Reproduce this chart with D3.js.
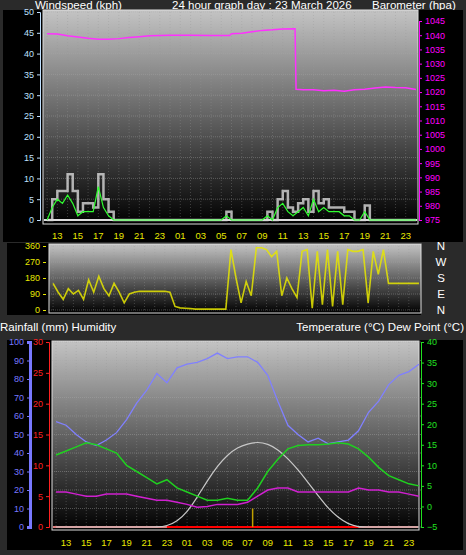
<!DOCTYPE html>
<html><head><meta charset="utf-8">
<script src="https://cdn.jsdelivr.net/npm/d3@7"></script>
<style>body{margin:0;background:#2a2a2a;} text{font-family:"Liberation Sans",Arial,sans-serif;}</style>
</head><body>
<script>
// half-hour times 12.0 .. 48.0 (hours since midnight of day before)
var halfHours = d3.range(12, 48.01, 0.5);
var gust = [0,5,7,7,11,7,2,4,4,3,11,5,2,0,0,0,0,0,0,0,0,0,0,0,0,0,0,0,0,0,0,0,0,0,0,2,0,0,0,0,0,0,0,2,0,5,7,3,2,4,5,2,7,4,5,3,3,3,2,2,0,0,3.5,0,0,0,0,0,0,0,0,0,0];
var wind = [0,3,5,4,6,4,1,2,2,2,8,3,1,0,0,0,0,0,0,0,0,0,0,0,0,0,0,0,0,0,0,0,0,0,0,1,0,0,0,0,0,0,0,1,0,3,4,2,1,2,3,1,5,2,3,2,2,2,1,1,0,0,2,0,0,0,0,0,0,0,0,0,0];
var windDir = [150,100,60,120,90,110,60,170,100,190,120,80,150,100,40,90,100,105,105,105,105,105,105,100,20,12,10,8,5,5,5,5,5,5,5,340,180,40,160,80,350,350,340,300,330,80,180,120,70,330,340,10,330,30,340,20,330,30,340,330,330,340,40,330,200,340,150,150,150,150,150,150,150];
var baroTime = [12,13,14,15,16,17,18,19,20,21,22,24,26,28,29.8,30,31,32,33,34,35,36.2,36.3,37,38,39,40,41,42,43,44,45,46,47,48];
var baro = [1040.5,1040.4,1039.8,1039.4,1038.9,1038.6,1038.6,1038.8,1039.2,1039.5,1039.8,1040,1040,1039.9,1039.9,1040.5,1040.7,1041.2,1041.7,1041.9,1042.2,1042.3,1021,1020.8,1020.8,1020.5,1020.6,1020.3,1020.8,1021,1021.4,1021.8,1021.6,1021.5,1020.9];
var hours = d3.range(12, 48.01, 1);
var humidity = [57,55,50,46,44,47,51,58,67,74,83,78,86,88,89,91,94,91,92,92,89,82,68,55,50,46,48,45,46,47,52,62,68,77,82,84,88];
var temperature = [12.5,13.5,14.5,15.5,15,14,13,10,8.5,7,5.5,6.5,4.5,3.5,2.5,1.5,1.5,2,1.5,1.5,4.5,8.5,11.5,14,14.8,15,15,15.2,15.5,15.2,14,12,9.5,7.5,6.5,5.5,5];
var dewPoint = [3.5,3.5,3,2.5,2.5,3,3,3,2.5,2,1.5,1.5,1,0.5,-0.2,0,0.5,0.5,0.5,1,2.5,4,4.5,4.5,3.5,3.5,3.5,3.5,3.5,3.5,4.5,4,4,3.5,3.5,3,2.5];
var solarPct = [0,0,0,0,0,0,0,0,0,0,0,0.5,3,8,16,25,33,39,43,45,46,45,42,37,31,24,17,10,5,1.5,0,0,0,0,0,0,0];
var rainRateTime = 31.5, rainRate = 3;
var hourLabels = ["13","15","17","19","21","23","01","03","05","07","09","11","13","15","17","19","21","23"];
var labelHours = d3.range(13, 48, 2);

var W = 466, H = 555;
var svg = d3.select('body').append('svg').attr('width', W).attr('height', H);
var defs = svg.append('defs');
var gr = defs.append('linearGradient').attr('id', 'bg').attr('x1', 0).attr('y1', 0).attr('x2', 0).attr('y2', 1);
gr.append('stop').attr('offset', '0%').attr('stop-color', '#c4c4c4');
gr.append('stop').attr('offset', '100%').attr('stop-color', '#000');

function panel(x0, y0, x1, y1, bx, by, bw, bh) {
  svg.append('rect').attr('x', bx).attr('y', by).attr('width', bw).attr('height', bh).attr('fill', '#000');
  svg.append('rect').attr('x', x0).attr('y', y0).attr('width', x1 - x0).attr('height', y1 - y0).attr('fill', 'url(#bg)')
    .attr('stroke', '#ddd').attr('stroke-width', 1);
}
function grid(x, y, ticks, yt) {
  var g = svg.append('g');
  g.selectAll('.v').data(labelHours.concat(d3.range(12, 48, 2))).enter().append('line')
    .attr('x1', d => x(d)).attr('x2', d => x(d)).attr('y1', y.range()[1]).attr('y2', y.range()[0])
    .attr('stroke', '#999').attr('stroke-opacity', 0.35).attr('stroke-dasharray', '1,2');
  g.selectAll('.h').data(yt).enter().append('line')
    .attr('x1', x.range()[0]).attr('x2', x.range()[1]).attr('y1', d => y(d)).attr('y2', d => y(d))
    .attr('stroke', '#aaa').attr('stroke-opacity', 0.4).attr('stroke-dasharray', '1,1');
}
function xLabels(x, yy) {
  svg.append('g').selectAll('text').data(labelHours).enter().append('text')
    .attr('x', d => x(d)).attr('y', yy).attr('text-anchor', 'middle').attr('font-size', 9.5).attr('fill', '#e8e800')
    .text((d, i) => hourLabels[i]);
}
function yAxis(scale, xpos, orient, vals, color, fmt) {
  var ax = (orient === 'left' ? d3.axisLeft(scale) : d3.axisRight(scale)).tickValues(vals).tickSize(3).tickFormat(fmt || d3.format('d'));
  var g = svg.append('g').attr('transform', 'translate(' + xpos + ',0)').call(ax);
  g.select('.domain').attr('stroke', color);
  g.selectAll('line').attr('stroke', color);
  g.selectAll('text').attr('fill', color).attr('font-size', 9).attr('font-family', '"Liberation Sans",Arial,sans-serif');
  return g;
}

// titles
svg.append('text').attr('x', 35).attr('y', 9).attr('fill', '#fff').attr('font-size', 11.5).text('Windspeed (kph)');
svg.append('text').attr('x', 172).attr('y', 9).attr('fill', '#fff').attr('font-size', 11.5).text('24 hour graph day : 23 March 2026');
svg.append('text').attr('x', 372).attr('y', 9).attr('fill', '#fff').attr('font-size', 11.5).text('Barometer (hpa)');

// ---- panel 1 wind/baro
var x1 = d3.scaleLinear().domain([11.6, 48.2]).range([43, 418]);
var yW = d3.scaleLinear().domain([0, 50]).range([220, 12]);
var yB = d3.scaleLinear().domain([975, 1045]).range([220, 21]);
panel(43, 10, 418, 224, 3, 10, 460, 232);
grid(x1, yW, null, d3.range(0, 51, 5));
yAxis(yW, 40, 'left', d3.range(0, 51, 5), '#bfe0ff');
yAxis(yB, 419, 'right', d3.range(975, 1046, 5), '#ff00ff');
svg.append('line').attr('x1', 44).attr('x2', 417).attr('y1', yW(0)).attr('y2', yW(0)).attr('stroke', '#ddd').attr('stroke-width', 2);
svg.append('path').datum(gust).attr('fill', 'none').attr('stroke', '#d8d8d8').attr('stroke-width', 2.5).attr('stroke-opacity', 0.8)
  .attr('d', d3.line().x((d, i) => x1(halfHours[i])).y(d => yW(d)).curve(d3.curveStepAfter));
svg.append('path').datum(wind).attr('fill', 'none').attr('stroke', '#30ff30').attr('stroke-width', 1.2)
  .attr('d', d3.line().x((d, i) => x1(halfHours[i])).y(d => yW(d)));
svg.append('path').datum(baro).attr('fill', 'none').attr('stroke', '#ff30ff').attr('stroke-width', 1.5)
  .attr('d', d3.line().x((d, i) => x1(baroTime[i])).y(d => yB(d)));
xLabels(x1, 239);

// ---- panel 2 wind direction
var x2 = d3.scaleLinear().domain([11.6, 48.2]).range([49, 421]);
var yD = d3.scaleLinear().domain([0, 360]).range([310, 246]);
panel(49, 244, 421, 313, 7, 243, 414, 72);
grid(x2, yD, null, d3.range(0, 361, 90));
yAxis(yD, 46, 'left', d3.range(0, 361, 90), '#e8e800').select('.domain').attr('stroke', 'none');
svg.append('path').datum(windDir).attr('fill', 'none').attr('stroke', '#e6e600').attr('stroke-width', 1.6).attr('stroke-opacity', 0.85)
  .attr('d', d3.line().x((d, i) => x2(halfHours[i])).y(d => yD(d)));
svg.append('g').selectAll('text').data(['N', 'W', 'S', 'E', 'N']).enter().append('text')
  .attr('x', 441).attr('y', (d, i) => yD(360 - i * 90) + 4).attr('text-anchor', 'middle')
  .attr('fill', '#fff').attr('font-size', 11.5).text(d => d);

// row labels
svg.append('text').attr('x', 0).attr('y', 331).attr('fill', '#fff').attr('font-size', 11.5).text('Rainfall (mm)  Humidity');
svg.append('text').attr('x', 464).attr('y', 331).attr('text-anchor', 'end').attr('fill', '#fff').attr('font-size', 11.5).text('Temperature (°C) Dew Point (°C)');

// ---- panel 3
var x3 = d3.scaleLinear().domain([11.6, 48.2]).range([52, 421]);
var yH = d3.scaleLinear().domain([0, 100]).range([527, 342]);
var yR = d3.scaleLinear().domain([0, 30]).range([527, 342]);
var yT = d3.scaleLinear().domain([-5, 40]).range([527, 342]);
panel(52, 341, 419, 530, 7, 340, 456, 210);
grid(x3, yH, null, d3.range(0, 101, 10));
yAxis(yH, 30, 'left', d3.range(0, 101, 10), '#7878ff').select('.domain').attr('stroke-width', 3);
yAxis(yR, 49, 'left', d3.range(0, 31, 5), '#ff2020');
yAxis(yT, 421, 'right', d3.range(-5, 41, 5), '#20e020');
var ln = function (ys, xs) { return d3.line().x((d, i) => x3(xs[i])).y(d => ys(d)); };
svg.append('line').attr('x1', 53).attr('x2', 418).attr('y1', yR(0)).attr('y2', yR(0)).attr('stroke', '#e08080').attr('stroke-width', 2);
svg.append('line').attr('x1', x3(23)).attr('x2', x3(42)).attr('y1', yR(0)).attr('y2', yR(0)).attr('stroke', '#ff0000').attr('stroke-width', 2);
svg.append('line').attr('x1', x3(rainRateTime)).attr('x2', x3(rainRateTime)).attr('y1', yR(0)).attr('y2', yR(rainRate)).attr('stroke', '#c0a000').attr('stroke-width', 1.5);
svg.append('path').datum(solarPct).attr('fill', 'none').attr('stroke', '#c8c8c8').attr('stroke-width', 1.2).attr('d', d3.line().curve(d3.curveBasis).x((d, i) => x3(hours[i])).y(d => yH(d)));
svg.append('path').datum(humidity).attr('fill', 'none').attr('stroke', '#8080ff').attr('stroke-width', 1.3).attr('d', ln(yH, hours));
svg.append('path').datum(temperature).attr('fill', 'none').attr('stroke', '#20d020').attr('stroke-width', 1.5).attr('d', ln(yT, hours));
svg.append('path').datum(dewPoint).attr('fill', 'none').attr('stroke', '#d020d0').attr('stroke-width', 1.5).attr('d', ln(yT, hours));
xLabels(x3, 546);
</script>
</body></html>
